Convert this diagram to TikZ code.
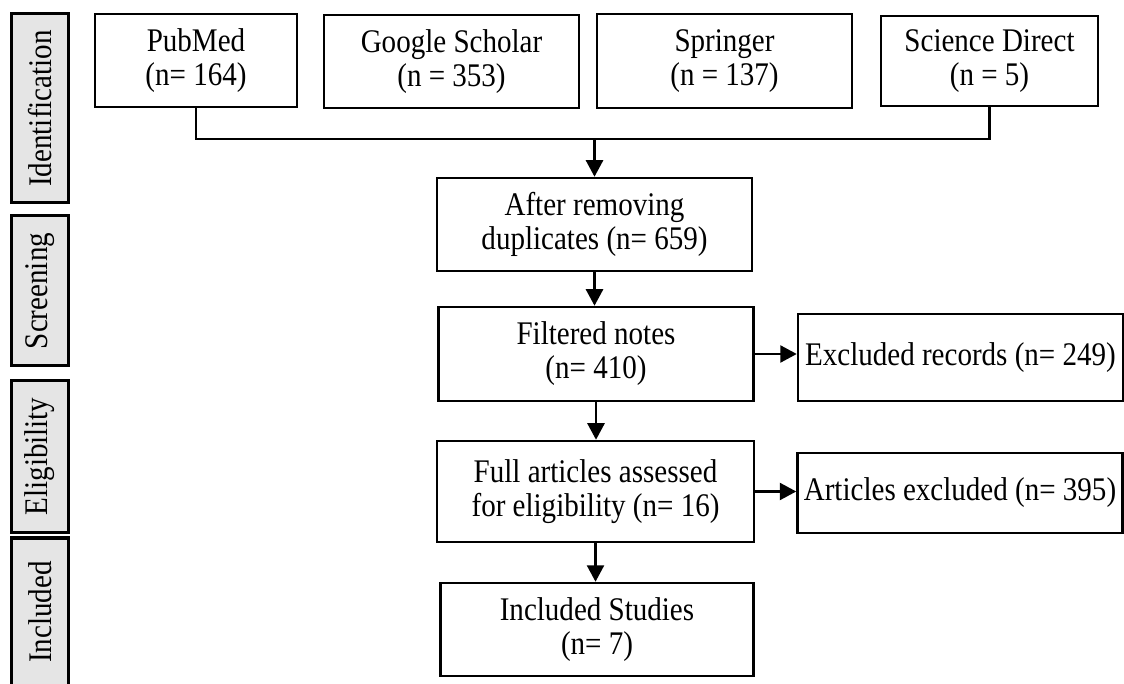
\documentclass[tikz,border=0pt]{standalone}
\usepackage{fontspec}
\setmainfont{Liberation Serif}[FakeStretch=0.88]
\usetikzlibrary{arrows.meta}

\begin{document}
\begin{tikzpicture}[x=0.4pt,y=-0.4pt,
    box/.style={rectangle,draw,line width=1pt,align=center,inner sep=1pt,
        font=\fontsize{13.2}{13.6}\selectfont},
    phase/.style={rectangle,draw,line width=1.2pt,fill=black!10,rotate=90,
        minimum height=22.4pt,inner sep=1pt,font=\fontsize{13.2}{13.6}\selectfont},
    arr/.style={line width=1pt,-{Triangle[length=6.6pt,width=6.8pt]}},
    link/.style={line width=1pt}]
    \useasboundingbox (0,0) rectangle (1124,684);

    % phases
    \node (ident) at (40,108.5) [phase,minimum width=75.6pt] {Identification};
    \node (screen) at (40,291) [phase,minimum width=60pt] {Screening};
    \node (elig) at (40,456.5) [phase,minimum width=60.4pt] {Eligibility};
    \node (incl) at (40,612) [phase,minimum width=59.2pt] {Included};

    % nodes
    \node (pubmed) at (196,60.5) [box,minimum width=80.8pt,minimum height=37.2pt] {PubMed\\(n= 164)};
    \node (scholar) at (451.5,61.5) [box,minimum width=102pt,minimum height=37.2pt] {Google Scholar\\(n = 353)};
    \node (springer) at (724.5,61) [box,minimum width=102pt,minimum height=37.6pt] {Springer\\(n = 137)};
    \node (scidirect) at (989.5,61) [box,minimum width=86.8pt,minimum height=36pt] {Science Direct\\(n = 5)};
    \node (dup) at (594.5,224.5) [box,minimum width=126pt,minimum height=37.2pt] {After removing\\duplicates (n= 659)};
    \node (filtered) at (596,354) [box,minimum width=126pt,minimum height=37.6pt] {Filtered notes\\(n= 410)};
    \node (fullart) at (595.5,491.5) [box,minimum width=126.8pt,minimum height=40.4pt] {Full articles assessed\\for eligibility (n= 16)};
    \node (studies) at (597,629.5) [box,minimum width=125.2pt,minimum height=37.2pt] {Included Studies\\(n= 7)};
    \node (records) at (960.5,357.5) [box,minimum width=130pt,minimum height=34.8pt] {Excluded records (n= 249)};
    \node (excluded) at (960,493) [box,minimum width=130pt,minimum height=32pt] {Articles excluded (n= 395)};
    \coordinate (merge) at (dup.north |- 0,139);

    % paths
    \draw[link] (pubmed.south) |- (merge) -| (scidirect.south); % sources join
    \draw[arr] (merge) -- (dup.north);
    \draw[arr] (dup.south) -- (dup.south |- filtered.north);
    \draw[arr] (filtered.south) -- (filtered.south |- fullart.north);
    \draw[arr] (fullart.south) -- (fullart.south |- studies.north);
    \draw[arr] (filtered.east) -- (filtered.east -| records.west);
    \draw[arr] (fullart.east) -- (fullart.east -| excluded.west);
\end{tikzpicture}
\end{document}
